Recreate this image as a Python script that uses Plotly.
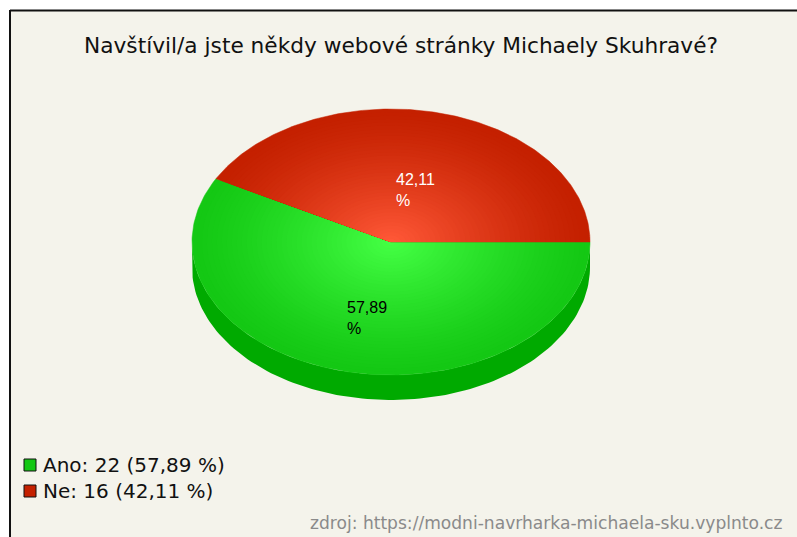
import numpy as np
import plotly.graph_objects as go

# ---------------- data ----------------
title = "Navštívil/a jste někdy webové stránky Michaely Skuhravé?"
labels = ["Ano", "Ne"]
counts = [22, 16]
source = "zdroj: https://modni-navrharka-michaela-sku.vyplnto.cz"

# ---------------- style ----------------
W, H = 797, 537
cx, cy, rx, ry, depth = 391, 242, 199, 133, 25
outer_cols = [(20, 200, 20), (196, 32, 0)]
inner_cols = [(68, 255, 68), (255, 88, 55)]
side_cols = ["#00aa00", "#9e1a00"]
label_cols = ["#000000", "#ffffff"]
bg = "#f4f3eb"
FONT = "DejaVu Sans, Verdana, sans-serif"
LFONT = "Liberation Sans, Arial, sans-serif"

total = sum(counts)
fracs = [c / total for c in counts]
pcts = [f"{f*100:.2f}".replace(".", ",") for f in fracs]


def rgb(c):
    return "rgb(%d,%d,%d)" % tuple(int(round(v)) for v in c)


def ell(t, s=1.0, dy=0.0):
    return cx + rx * s * np.cos(t), cy - ry * s * np.sin(t) + dy


fig = go.Figure()

# slice angles (clockwise from 0 deg)
bounds = []
a = 0.0
for f in fracs:
    b = a - f * 2 * np.pi
    bounds.append((a, b))
    a = b

# side walls (front, lower half of the ellipse)
for i, (a0, a1) in enumerate(bounds):
    hi, lo = a0, a1
    for wlo, whi in [(-np.pi, 0.0), (-3 * np.pi, -2 * np.pi)]:
        l, h = max(lo, wlo), min(hi, whi)
        if h - l > 1e-6:
            t = np.linspace(h, l, 120)
            xt, yt = ell(t)
            xb, yb = ell(t[::-1], dy=depth)
            fig.add_trace(go.Scatter(
                x=np.concatenate([xt, xb]), y=np.concatenate([yt, yb]),
                fill="toself", fillcolor=side_cols[i], mode="lines",
                line=dict(width=0, color=side_cols[i]),
                hoverinfo="skip", showlegend=False))

# top faces with radial shading (concentric layers)
N = 40
for i, (a0, a1) in enumerate(bounds):
    t = np.linspace(a0, a1, 200)
    for k in range(N):
        s = 1 - k / N
        u = (k / (N - 1)) ** 1.3
        col = [outer_cols[i][j] + (inner_cols[i][j] - outer_cols[i][j]) * u for j in range(3)]
        xs, ys = ell(t, s)
        xs = np.concatenate([[cx], xs, [cx]])
        ys = np.concatenate([[cy], ys, [cy]])
        fig.add_trace(go.Scatter(
            x=xs, y=ys, fill="toself", fillcolor=rgb(col), mode="lines",
            line=dict(width=0.5 if k == 0 else 0, color=rgb(col)),
            hoverinfo="skip", showlegend=False))

annotations = []
# slice labels
for i, (a0, a1) in enumerate(bounds):
    m = (a0 + a1) / 2
    lx, ly = ell(m, 0.5)
    annotations.append(dict(
        x=lx, y=ly, xref="x", yref="y", text=f"{pcts[i]}<br>%",
        showarrow=False, align="left", xanchor="center", yanchor="middle",
        yshift=-12, font=dict(family=LFONT, size=16, color=label_cols[i])))

# title
annotations.append(dict(x=401, y=45, xref="x", yref="y", text=title, showarrow=False,
                        xanchor="center", yanchor="middle",
                        font=dict(family=FONT, size=21.7, color="#111111")))
# source
annotations.append(dict(x=785, y=523, xref="x", yref="y", text=source, showarrow=False,
                        xanchor="right", yanchor="middle",
                        font=dict(family=FONT, size=17.1, color="#8a8a8a")))

shapes = [
    dict(type="rect", xref="x", yref="y", x0=10, y0=10, x1=W + 5, y1=H + 5,
         fillcolor=bg, line=dict(width=0), layer="below"),
    dict(type="line", xref="x", yref="y", x0=10, y0=10.5, x1=W, y1=10.5,
         line=dict(color="#111111", width=2)),
    dict(type="line", xref="x", yref="y", x0=10, y0=10, x1=10, y1=H + 5,
         line=dict(color="#111111", width=2)),
]

# legend
for i, lab in enumerate(labels):
    yc = 465 + i * 26
    shapes.append(dict(type="rect", xref="x", yref="y", x0=24, y0=yc - 6, x1=36, y1=yc + 6,
                       fillcolor=rgb(outer_cols[i]), line=dict(color="#111111", width=1)))
    annotations.append(dict(x=41, y=yc, xref="x", yref="y",
                            text=f"{lab}: {counts[i]} ({pcts[i]} %)", showarrow=False,
                            xanchor="left", yanchor="middle",
                            font=dict(family=FONT, size=20, color="#111111")))

fig.update_layout(
    width=W, height=H, margin=dict(l=0, r=0, t=0, b=0),
    paper_bgcolor="white", plot_bgcolor="rgba(0,0,0,0)",
    xaxis=dict(range=[0, W], visible=False, fixedrange=True),
    yaxis=dict(range=[H, 0], visible=False, fixedrange=True),
    shapes=shapes, annotations=annotations, showlegend=False,
)

fig.write_html("out.html")
